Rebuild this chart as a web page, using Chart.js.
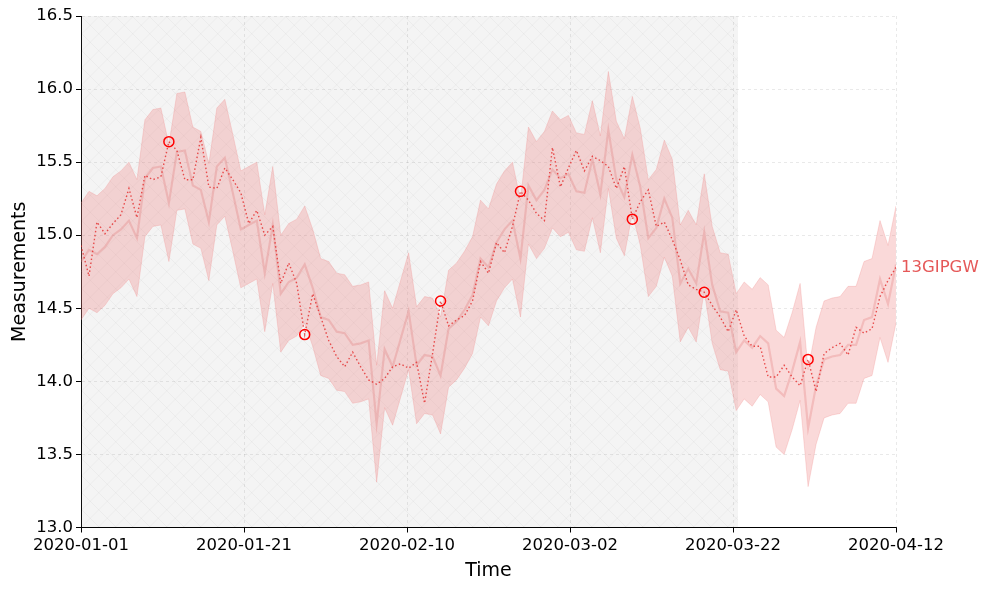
<!DOCTYPE html>
<html>
<head>
<meta charset="utf-8">
<script src="https://cdn.jsdelivr.net/npm/chart.js@4.4.1/dist/chart.umd.min.js"></script>
<style>
  html, body { margin: 0; padding: 0; background: #fff; }
  #wrap { width: 989px; height: 589px; }
</style>
</head>
<body>
<div id="wrap"><canvas id="chart" width="989" height="589"></canvas></div>
<script>
// daily samples from 2020-01-01 to 2020-04-12, x = day index
const dayCount = 103;
const days = Array.from({ length: dayCount }, (_, i) => i);

const tickDays = [0, 20.4, 40.8, 61.2, 81.6, 102];
const tickLabels = ['2020-01-01', '2020-01-21', '2020-02-10', '2020-03-02', '2020-03-22', '2020-04-12'];

const seriesName = '13GIPGW';

// faint solid line (centre of the band)
const measured = [
  14.82, 14.90, 14.87, 14.92, 15.00, 15.04, 15.10, 14.98, 15.39, 15.46,
  15.47, 15.22, 15.57, 15.58, 15.34, 15.31, 15.09, 15.47, 15.53, 15.29,
  15.04, 15.07, 15.10, 14.74, 15.07, 14.60, 14.68, 14.71, 14.80, 14.64,
  14.44, 14.42, 14.34, 14.33, 14.25, 14.26, 14.28, 13.71, 14.22, 14.10,
  14.29, 14.48, 14.11, 14.18, 14.17, 14.04, 14.36, 14.41, 14.49, 14.59,
  14.84, 14.78, 14.95, 15.04, 15.10, 14.84, 15.34, 15.24, 15.31, 15.45,
  15.39, 15.42, 15.30, 15.29, 15.52, 15.28, 15.72, 15.38, 15.26, 15.55,
  15.33, 14.98, 15.05, 15.25, 15.12, 14.67, 14.77, 14.67, 15.02, 14.66,
  14.48, 14.47, 14.20, 14.28, 14.23, 14.31, 14.26, 13.95, 13.90, 14.07,
  14.27, 13.68, 13.97, 14.15, 14.17, 14.18, 14.25, 14.25, 14.42, 14.44,
  14.70, 14.53, 14.80
];

const bandUpper = [
  15.22, 15.30, 15.27, 15.32, 15.40, 15.44, 15.50, 15.38, 15.79, 15.86,
  15.87, 15.62, 15.97, 15.98, 15.74, 15.71, 15.49, 15.87, 15.93, 15.69,
  15.44, 15.47, 15.50, 15.14, 15.47, 15.00, 15.08, 15.11, 15.20, 15.04,
  14.84, 14.82, 14.74, 14.73, 14.65, 14.66, 14.68, 14.11, 14.62, 14.50,
  14.69, 14.88, 14.51, 14.58, 14.57, 14.44, 14.76, 14.81, 14.89, 14.99,
  15.24, 15.18, 15.35, 15.44, 15.50, 15.24, 15.74, 15.64, 15.71, 15.85,
  15.79, 15.82, 15.70, 15.69, 15.92, 15.68, 16.12, 15.78, 15.66, 15.95,
  15.73, 15.38, 15.45, 15.65, 15.52, 15.07, 15.17, 15.07, 15.42, 15.06,
  14.88, 14.87, 14.60, 14.68, 14.63, 14.71, 14.66, 14.35, 14.30, 14.47,
  14.67, 14.08, 14.37, 14.55, 14.57, 14.58, 14.65, 14.65, 14.82, 14.84,
  15.10, 14.93, 15.20
];

const bandLower = [
  14.42, 14.50, 14.47, 14.52, 14.60, 14.64, 14.70, 14.58, 14.99, 15.06,
  15.07, 14.82, 15.17, 15.18, 14.94, 14.91, 14.69, 15.07, 15.13, 14.89,
  14.64, 14.67, 14.70, 14.34, 14.67, 14.20, 14.28, 14.31, 14.40, 14.24,
  14.04, 14.02, 13.94, 13.93, 13.85, 13.86, 13.88, 13.31, 13.82, 13.70,
  13.89, 14.08, 13.71, 13.78, 13.77, 13.64, 13.96, 14.01, 14.09, 14.19,
  14.44, 14.38, 14.55, 14.64, 14.70, 14.44, 14.94, 14.84, 14.91, 15.05,
  14.99, 15.02, 14.90, 14.89, 15.12, 14.88, 15.32, 14.98, 14.86, 15.15,
  14.93, 14.58, 14.65, 14.85, 14.72, 14.27, 14.37, 14.27, 14.62, 14.26,
  14.08, 14.07, 13.80, 13.88, 13.83, 13.91, 13.86, 13.55, 13.50, 13.67,
  13.87, 13.28, 13.57, 13.75, 13.77, 13.78, 13.85, 13.85, 14.02, 14.04,
  14.30, 14.13, 14.40
];

// dotted red line
const trend = [
  14.93, 14.72, 15.09, 15.01, 15.08, 15.14, 15.32, 15.12, 15.41, 15.38,
  15.40, 15.64, 15.58, 15.38, 15.38, 15.67, 15.33, 15.32, 15.46, 15.38,
  15.29, 15.08, 15.17, 15.00, 15.06, 14.67, 14.81, 14.67, 14.32, 14.60,
  14.44, 14.28, 14.17, 14.10, 14.20, 14.10, 14.01, 13.98, 14.02, 14.10,
  14.12, 14.09, 14.13, 13.85, 14.19, 14.55, 14.38, 14.42, 14.45, 14.55,
  14.82, 14.74, 14.95, 14.88, 15.06, 15.30, 15.24, 15.15, 15.10, 15.60,
  15.33, 15.46, 15.58, 15.44, 15.54, 15.51, 15.47, 15.32, 15.47, 15.11,
  15.23, 15.31, 15.06, 15.09, 14.97, 14.83, 14.66, 14.63, 14.61, 14.52,
  14.44, 14.34, 14.49, 14.31, 14.24, 14.24, 14.03, 14.03, 14.11, 14.03,
  13.97, 14.15, 13.93, 14.19, 14.23, 14.26, 14.18, 14.37, 14.33, 14.36,
  14.58, 14.69, 14.78
];

// circled points on the dotted line
const markerDays = [11, 28, 45, 55, 69, 78, 91];

// hatched grey span (day index)
const shadedSpan = [0, 82.25];

Chart.defaults.font.family = '"DejaVu Sans", sans-serif';
Chart.defaults.color = '#000';

const shadePlugin = {
    id: 'shade',
    beforeDatasetsDraw(chart) {
        const { ctx, chartArea, scales } = chart;
        const x0 = scales.x.getPixelForValue(shadedSpan[0]);
        const x1 = scales.x.getPixelForValue(shadedSpan[1]);
        const top = chartArea.top;
        const h = chartArea.bottom - chartArea.top;

        ctx.save();
        ctx.beginPath();
        ctx.rect(x0, top, x1 - x0, h);
        ctx.clip();
        ctx.fillStyle = 'rgba(128,128,128,0.09)';
        ctx.fillRect(x0, top, x1 - x0, h);

        // cross hatch
        ctx.strokeStyle = 'rgba(0,0,0,0.03)';
        ctx.lineWidth = 1;
        const step = 17;
        ctx.beginPath();
        for (let k = -Math.ceil(h / step) - 2; k < (x1 - x0) / step + 2; k++) {
            const bx = x0 + k * step;
            ctx.moveTo(bx, chartArea.bottom);
            ctx.lineTo(bx + h, top);
            ctx.moveTo(bx + h, chartArea.bottom);
            ctx.lineTo(bx, top);
        }
        ctx.stroke();
        ctx.restore();
    }
};

const endLabelPlugin = {
    id: 'endLabel',
    afterDatasetsDraw(chart) {
        const { ctx, scales } = chart;
        const last = trend.length - 1;
        ctx.save();
        ctx.font = '16.5px "DejaVu Sans"';
        ctx.fillStyle = 'rgba(226,70,70,0.9)';
        ctx.textBaseline = 'middle';
        ctx.textAlign = 'left';
        ctx.fillText(seriesName, scales.x.getPixelForValue(last) + 5, scales.y.getPixelForValue(trend[last]));
        ctx.restore();
    }
};

const bandColor = 'rgba(240,128,128,0.3)';

const ctx = document.getElementById('chart').getContext('2d');
new Chart(ctx, {
    type: 'line',
    data: {
        labels: days,
        datasets: [
            {
                label: 'upper',
                data: bandUpper,
                borderColor: 'rgba(240,128,128,0.25)',
                borderWidth: 1,
                backgroundColor: bandColor,
                pointRadius: 0,
                fill: '+1',
                tension: 0,
                order: 4
            },
            {
                label: 'lower',
                data: bandLower,
                borderColor: 'rgba(240,128,128,0.25)',
                borderWidth: 1,
                pointRadius: 0,
                fill: false,
                tension: 0,
                order: 4
            },
            {
                label: 'measured',
                data: measured,
                borderColor: 'rgba(225,120,120,0.3)',
                borderWidth: 2.2,
                pointRadius: 0,
                fill: false,
                tension: 0,
                order: 3
            },
            {
                label: seriesName,
                data: trend,
                borderColor: 'rgba(228,40,40,0.8)',
                borderWidth: 1.4,
                borderDash: [1.5, 2.5],
                pointRadius: 0,
                fill: false,
                tension: 0,
                order: 2
            },
            {
                label: 'markers',
                type: 'scatter',
                data: markerDays.map(d => ({ x: d, y: trend[d] })),
                borderColor: '#ff0000',
                backgroundColor: 'rgba(0,0,0,0)',
                borderWidth: 1.5,
                pointRadius: 5,
                showLine: false,
                order: 1
            }
        ]
    },
    options: {
        responsive: false,
        animation: false,
        devicePixelRatio: 1,
        layout: { padding: { left: 0, right: 93, top: 16, bottom: 0 } },
        plugins: {
            legend: { display: false },
            tooltip: { enabled: false }
        },
        scales: {
            x: {
                type: 'linear',
                min: 0,
                max: 102,
                afterBuildTicks: s => { s.ticks = tickDays.map(v => ({ value: v })); },
                afterFit: s => { s.height = 61.5; },
                ticks: {
                    autoSkip: false,
                    maxRotation: 0,
                    padding: 3,
                    font: { size: 16.5 },
                    callback: (v, i) => tickLabels[i]
                },
                grid: {
                    color: 'rgba(0,0,0,0.11)',
                    lineWidth: 0.8,
                    tickLength: 5,
                    tickColor: '#000',
                    tickWidth: 1
                },
                border: { display: true, color: '#000', width: 1, dash: [3, 3] },
                title: {
                    display: true,
                    text: 'Time',
                    font: { size: 19 },
                    padding: { top: 0, bottom: 7 }
                }
            },
            y: {
                min: 13,
                max: 16.5,
                afterFit: s => { s.width = 81; },
                ticks: {
                    stepSize: 0.5,
                    padding: 3,
                    font: { size: 16.5 },
                    callback: v => v.toFixed(1)
                },
                grid: {
                    color: 'rgba(0,0,0,0.11)',
                    lineWidth: 0.8,
                    tickLength: 5,
                    tickColor: '#000',
                    tickWidth: 1
                },
                border: { display: true, color: '#000', width: 1, dash: [3, 3] },
                title: {
                    display: true,
                    text: 'Measurements',
                    font: { size: 19 },
                    padding: { top: 9, bottom: 0 }
                }
            }
        }
    },
    plugins: [shadePlugin, endLabelPlugin]
});
</script>
</body>
</html>
